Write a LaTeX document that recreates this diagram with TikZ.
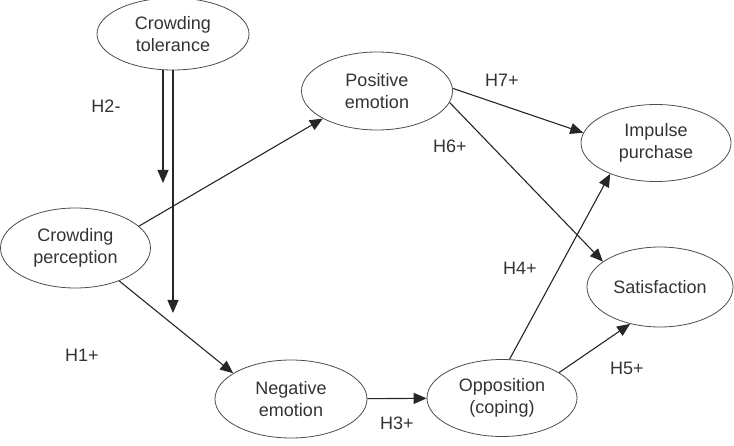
\documentclass[tikz,border=0pt]{standalone}
\usepackage{fontspec}
\setmainfont{Liberation Sans}
\usetikzlibrary{shapes.geometric,arrows.meta}

\tikzset{
	construct/.style={draw=black!70,
		ellipse,
		line width=0.8pt,
		inner sep=0pt,
		align=center,
		minimum width=150pt,
		minimum height=78pt,
		text=black!80,
		font=\fontsize{18}{22}\selectfont},
	hpath/.style={draw=black!85,
		line width=1.1pt,
		-{Triangle[length=13pt,width=11pt]}},
	hyp/.style={text=black!80,
		font=\fontsize{18}{22}\selectfont}
}

\begin{document}
\begin{tikzpicture}[x=1pt,y=-1pt]
		
		\useasboundingbox (0,0) rectangle (734,446);
		
		% Moderator
		\node [construct,
		minimum width=152pt,
		minimum height=72pt] (CT) at (173,34) {Crowding\\tolerance};
		
		% Antecedent
		\node [construct,
		minimum height=80pt] (CP) at (75.5,248) {Crowding\\perception};
		
		% Emotions
		\node [construct,
		minimum width=151pt] (PE) at (377,91) {Positive\\emotion};
		\node [construct,
		minimum width=152pt] (NE) at (291,399) {Negative\\emotion};
		
		% Coping
		\node [construct,
		minimum height=77pt] (OPP) at (502,398) {Opposition\\(coping)};
		
		% Outcomes
		\node [construct,
		minimum height=77pt] (IP) at (656,143) {Impulse\\purchase};
		\node [construct,
		minimum width=146pt,
		minimum height=80pt] (SAT) at (660,287) {Satisfaction};
		
		% Moderating effects
		\coordinate (modA) at (163,183);
		\coordinate (modB) at (173,313);
		\draw [hpath] (CT.south -| modA) -- (modA);
		\draw [hpath] (CT.south -| modB) -- (modB);
		
		% Hypothesised paths
		\draw [hpath] (CP.19) -- (PE.207);
		\draw [hpath] (CP.323) -- (NE.156);
		\draw [hpath] (NE) -- (OPP);
		\draw [hpath] (OPP.79) -- (IP.214);
		\draw [hpath] (OPP.24) -- (SAT.231);
		\draw [hpath] (PE.2) -- (IP.172);
		\draw [hpath] (PE.351) -- (SAT.156);
		
		% Hypothesis labels
		\node [hyp] (h1) at (82,355) {H1+};
		\node [hyp] (h2) at (106,106) {H2-};
		\node [hyp] (h3) at (397,423) {H3+};
		\node [hyp] (h4) at (520,268) {H4+};
		\node [hyp] (h5) at (627,368) {H5+};
		\node [hyp] (h6) at (450,146) {H6+};
		\node [hyp] (h7) at (502,80) {H7+};
		
	\end{tikzpicture}
\end{document}
